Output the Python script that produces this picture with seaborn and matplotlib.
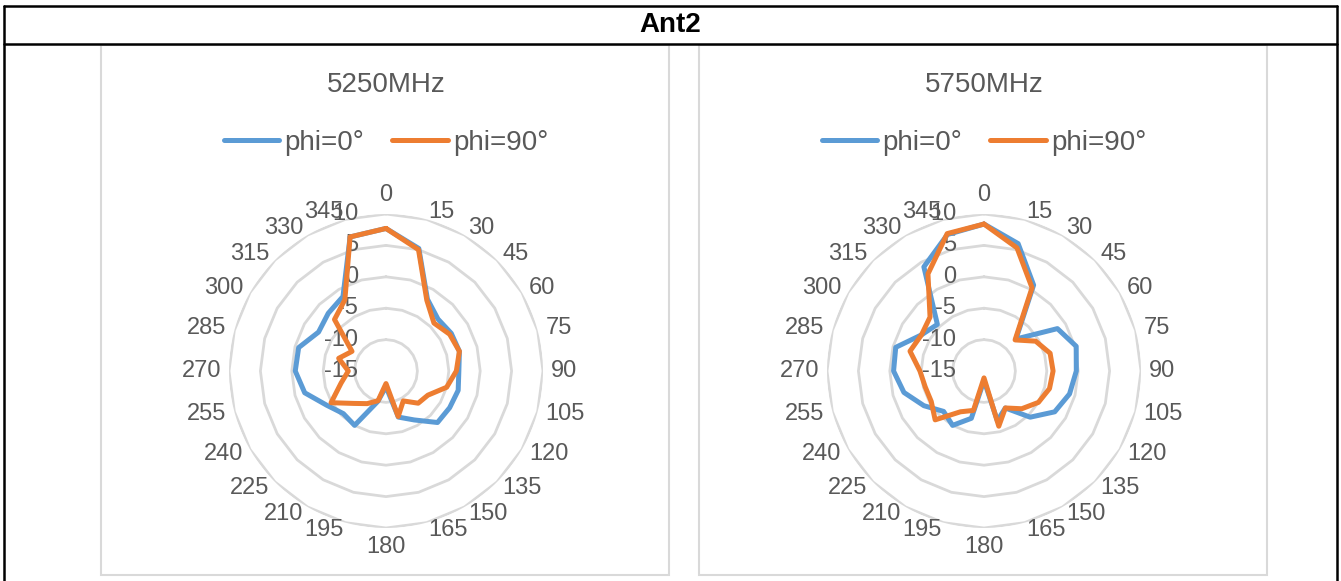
import numpy as np
import matplotlib
matplotlib.use('Agg')
import matplotlib.pyplot as plt
import matplotlib.transforms as mtransforms
from matplotlib.lines import Line2D
from matplotlib.patches import Rectangle
import seaborn as sns

# ---------------------------------------------------------------
# Data (gain in dB)
# ---------------------------------------------------------------
angles_deg = list(range(0, 360, 15))
r_ticks = [-15, -10, -5, 0, 5, 10]
series_names = ['phi=0°', 'phi=90°']
freqs = ['5250MHz', '5750MHz']

phi0_5250 = [7.7, 5.2, -1.8, -3.3, -3.0, -2.9, -3.4, -3.1, -3.3, -3.4, -6.0, -7.4,
             -12.5, -10.0, -5.0, -5.4, -4.1, -1.6, -0.55, -0.6, -2.6, -2.0, -1.3, 7.1]
phi90_5250 = [7.7, 5.0, -2.0, -4.2, -3.3, -2.9, -3.8, -5.0, -7.3, -7.75, -9.5, -7.5,
              -13.0, -10.1, -9.0, -7.7, -4.9, -7.6, -9.0, -7.2, -8.75, -3.4, -1.9, 7.1]
phi0_5750 = [8.4, 6.0, 0.8, -7.8, -1.5, 0.2, -0.3, -0.9, -2.0, -4.6, -8.2, -6.8,
             -13.5, -7.2, -5.0, -5.9, -3.95, -1.8, -0.6, -0.45, -3.5, -4.5, 4.15, 7.5]
phi90_5750 = [8.4, 5.3, 0.3, -8.0, -5.5, -4.1, -4.0, -4.2, -5.0, -6.5, -8.2, -5.9,
              -13.9, -8.5, -7.5, -4.0, -5.3, -5.3, -4.8, -2.8, -3.5, -2.85, 2.85, 7.65]

# ---------------------------------------------------------------
# Style
# ---------------------------------------------------------------
sns.set_theme(style='white')
plt.rcParams['font.family'] = ['Liberation Sans', 'DejaVu Sans']
BLUE = '#5B9BD5'
ORANGE = '#ED7D31'
GRID = '#D9D9D9'
TXT = '#595959'
TICK_FS = 17
TITLE_FS = 20
LEG_FS = 20
LW = 3.6

W, H = 1341, 581
fig = plt.figure(figsize=(W / 100, H / 100), dpi=100)


def px_rect(x0, y0, x1, y1):
    return [x0 / W, 1 - y1 / H, (x1 - x0) / W, (y1 - y0) / H]


def fig_line(x0, y0, x1, y1, **kw):
    fig.add_artist(Line2D([x0 / W, x1 / W], [1 - y0 / H, 1 - y1 / H],
                          transform=fig.transFigure, **kw))


def draw_radar(cx, cy, box, title, v0, v90):
    bx0, by0, bx1, by1 = box
    fig.add_artist(Rectangle((bx0 / W, 1 - by1 / H), (bx1 - bx0) / W, (by1 - by0) / H,
                             transform=fig.transFigure, fill=False,
                             edgecolor=GRID, lw=1.5, zorder=0))
    R = 157
    ax = fig.add_axes(px_rect(cx - R, cy - R, cx + R, cy + R), projection='polar')
    ax.set_theta_zero_location('N')
    ax.set_theta_direction(-1)
    ax.set_ylim(r_ticks[0], r_ticks[-1])
    ax.grid(False)
    ax.set_xticks([])
    ax.set_yticks([])
    ax.spines['polar'].set_visible(False)
    ax.patch.set_alpha(0)

    theta = np.deg2rad(angles_deg + [angles_deg[0]])
    for lvl in r_ticks[1:]:
        ax.plot(theta, [lvl] * len(theta), color=GRID, lw=2.0, zorder=1)

    sns.lineplot(x=theta, y=v0 + [v0[0]], sort=False, ax=ax, color=BLUE,
                 lw=LW, estimator=None, zorder=3)
    sns.lineplot(x=theta, y=v90 + [v90[0]], sort=False, ax=ax, color=ORANGE,
                 lw=LW, estimator=None, zorder=4)
    ax.set_xlabel('')
    ax.set_ylabel('')

    # spoke labels, anchored just outside the outer ring (Excel style)
    r_lab = r_ticks[-1] + 8 * (r_ticks[-1] - r_ticks[0]) / R
    for a in angles_deg:
        s, c = np.sin(np.deg2rad(a)), np.cos(np.deg2rad(a))
        ha = 'left' if s > 0.05 else ('right' if s < -0.05 else 'center')
        if abs(s) < 0.05:
            va = 'bottom' if c > 0 else 'top'
        else:
            va = 'center'
        ax.text(np.deg2rad(a), r_lab, str(a), ha=ha, va=va,
                fontsize=TICK_FS, color=TXT, clip_on=False)
    # radial labels
    off = mtransforms.offset_copy(ax.transData, fig=fig, x=-28, y=0, units='dots')
    for t in r_ticks:
        ax.text(0, t, str(t), transform=off, ha='right', va='center',
                fontsize=TICK_FS, color=TXT, zorder=2)

    fig.text(cx / W, 1 - 85 / H, title, ha='center', va='center',
             fontsize=TITLE_FS, color=TXT)
    handles = [Line2D([], [], color=BLUE, lw=LW), Line2D([], [], color=ORANGE, lw=LW)]
    leg = fig.legend(handles, series_names, loc='center',
                     bbox_to_anchor=(cx / W, 1 - 143 / H), ncol=2, frameon=False,
                     fontsize=LEG_FS, handlelength=2.0, handletextpad=0.2,
                     columnspacing=1.0)
    for t in leg.get_texts():
        t.set_color(TXT)


draw_radar(386, 371, (101, 45, 669, 575), freqs[0], phi0_5250, phi90_5250)
draw_radar(984, 371, (699, 45, 1267, 575), freqs[1], phi0_5750, phi90_5750)

# table frame
fig.text(670 / W, 1 - 25 / H, 'Ant2', ha='center', va='center',
         fontsize=20, fontweight='bold', color='black')
fig_line(4, 6, 1337, 6, color='black', lw=1.8)
fig_line(4, 44, 1337, 44, color='black', lw=1.8)
fig_line(4, 6, 4, 581, color='black', lw=1.8)
fig_line(1337, 6, 1337, 581, color='black', lw=1.8)

fig.savefig('out.png', dpi=100)
